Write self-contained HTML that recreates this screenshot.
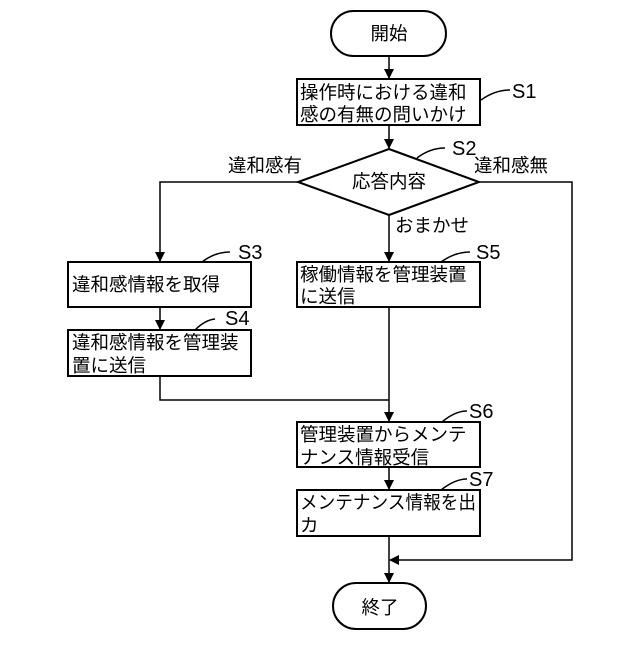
<!DOCTYPE html>
<html><head><meta charset="utf-8"><style>body{margin:0;background:#fff}</style></head><body>
<svg width="640" height="640" xmlns="http://www.w3.org/2000/svg" font-family="Liberation Sans, Noto Sans CJK JP, sans-serif" font-size="18.5" fill="#000">
<defs><marker id="a" markerWidth="10" markerHeight="10" refX="9" refY="5" orient="auto" markerUnits="userSpaceOnUse"><path d="M0,0 L10,5 L0,10 Z" fill="#000"/></marker></defs>
<g stroke="#000" stroke-width="2" fill="none">
<rect x="331" y="11" width="115" height="45" rx="22.5"/>
<rect x="297" y="79" width="183" height="46"/>
<polygon points="389,149 479,182 389,215 298,182"/>
<rect x="68" y="262" width="183" height="45"/>
<rect x="68" y="330" width="183" height="46"/>
<rect x="297" y="262" width="183" height="45"/>
<rect x="297" y="422" width="183" height="45"/>
<rect x="297" y="490" width="183" height="46"/>
<rect x="333" y="583" width="93" height="46" rx="23"/>
</g>
<g stroke="#000" stroke-width="1.5" fill="none">
<line x1="389" y1="56" x2="389" y2="78" marker-end="url(#a)"/>
<line x1="389" y1="125" x2="389" y2="148" marker-end="url(#a)"/>
<polyline points="298,182 160,182 160,261" marker-end="url(#a)"/>
<line x1="389" y1="215" x2="389" y2="261" marker-end="url(#a)"/>
<line x1="160" y1="307" x2="160" y2="329" marker-end="url(#a)"/>
<polyline points="160,376 160,400 389,400"/>
<line x1="389" y1="307" x2="389" y2="421" marker-end="url(#a)"/>
<line x1="389" y1="467" x2="389" y2="489" marker-end="url(#a)"/>
<line x1="389" y1="536" x2="389" y2="582" marker-end="url(#a)"/>
<polyline points="479,182 572,182 572,560 390,560" marker-end="url(#a)"/>
<path d="M481,100 Q495,90 510,90"/>
<path d="M417,158 Q430,148 445,148"/>
<path d="M202,262 Q215,252 230,252"/>
<path d="M195,330 Q205,320 215,319"/>
<path d="M441,262 Q455,252 470,252"/>
<path d="M442,422 Q455,411 467,411"/>
<path d="M441,490 Q455,479 467,479"/>
</g>
<g text-anchor="middle">
<text x="389" y="40">開始</text>
<text x="380" y="614">終了</text>
<text x="389" y="188">応答内容</text>
</g>
<text x="300" y="99">操作時における違和</text>
<text x="300" y="121">感の有無の問いかけ</text>
<text x="72" y="291">違和感情報を取得</text>
<text x="72" y="349">違和感情報を管理装</text>
<text x="72" y="372">置に送信</text>
<text x="300" y="281">稼働情報を管理装置</text>
<text x="300" y="303">に送信</text>
<text x="300" y="441">管理装置からメンテ</text>
<text x="300" y="464">ナンス情報受信</text>
<text x="300" y="509" textLength="176" lengthAdjust="spacingAndGlyphs">メンテナンス情報を出</text>
<text x="300" y="532">カ</text>
<text x="228" y="172">違和感有</text>
<text x="474" y="172">違和感無</text>
<text x="395" y="232">おまかせ</text>
<g font-size="20">
<text x="512" y="98">S1</text>
<text x="452" y="155">S2</text>
<text x="238" y="259">S3</text>
<text x="225" y="325">S4</text>
<text x="476" y="259">S5</text>
<text x="469" y="418">S6</text>
<text x="469" y="486">S7</text>
</g>
</svg>
</body></html>
